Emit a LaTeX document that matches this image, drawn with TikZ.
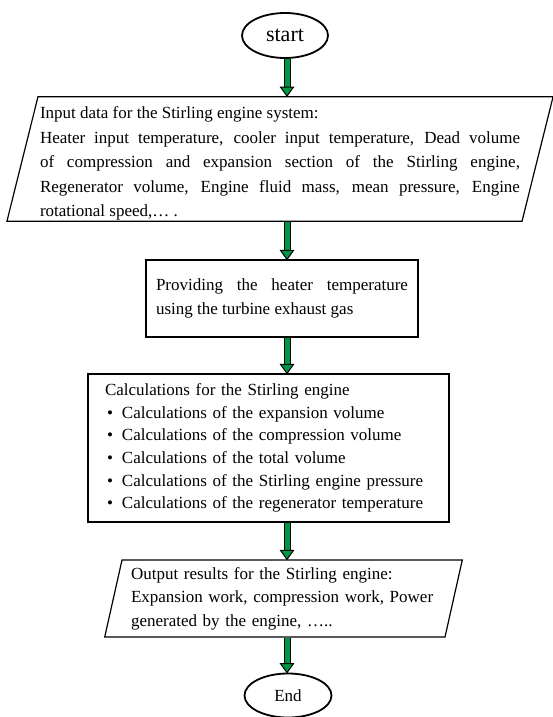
\documentclass[tikz,border=0pt]{standalone}
\usepackage{fontspec}
\setmainfont{Liberation Serif}
\setlength{\parindent}{0pt}
\usetikzlibrary{shapes.geometric}
\definecolor{flowgreen}{RGB}{0,150,70}

\begin{document}
\begin{tikzpicture}[x=1pt, y=1pt, line width=1.2pt]
    \tikzset{
        every node/.style={font=\fontsize{17}{23.5}\selectfont},
        box/.style={draw, rectangle, align=justify},
        io/.style={draw, trapezium, trapezium left angle=76, trapezium right angle=104, trapezium stretches body},
        term/.style={draw, ellipse, line width=1.8pt, inner sep=0pt},
        shaft/.style={double=flowgreen, double distance=5pt, line width=1pt},
        head/.style={fill=flowgreen, draw=black, line width=1pt},
    }
    \useasboundingbox (0,0) rectangle (553,-717);
    \coordinate (axis) at (287,0);

    \node[term, minimum width=86pt, minimum height=45pt, font=\fontsize{22}{26}\selectfont] (start) at (285,-35.5) {start};
    \node[io, text width=480pt, inner xsep=2pt, inner ysep=1pt, minimum height=122pt, align=justify,
          font=\fontsize{17}{24.5}\selectfont] (input) at (280,-159)
        {\rule{0pt}{21pt}Input data for the Stirling engine system:\\
         Heater input temperature, cooler input temperature, Dead volume\linebreak
         of compression and expansion section of the Stirling engine,\linebreak
         Regenerator volume, Engine fluid mass, mean pressure, Engine\linebreak
         rotational speed,… .};
    \node[box, text width=252pt, inner xsep=10pt, minimum height=77pt] (heater) at (282,-298.5)
        {Providing the heater temperature\linebreak using the turbine exhaust gas};
    \node[box, text width=333pt, inner xsep=14pt, minimum height=148pt, align=left,
          font=\fontsize{17}{22.7}\selectfont] (calc) at (268.5,-448)
        {\hspace*{3pt}Calculations for the Stirling engine\\
         \hspace*{5pt}\textbullet\hspace{9pt}Calculations of the expansion volume\\
         \hspace*{5pt}\textbullet\hspace{9pt}Calculations of the compression volume\\
         \hspace*{5pt}\textbullet\hspace{9pt}Calculations of the total volume\\
         \hspace*{5pt}\textbullet\hspace{9pt}Calculations of the Stirling engine pressure\\
         \hspace*{5pt}\textbullet\hspace{9pt}Calculations of the regenerator temperature};
    \node[io, text width=313pt, inner xsep=5pt, minimum height=77pt, align=left] (output) at (283.5,-598.5)
        {\hspace*{4pt}Output results for the Stirling engine:\\
         \hspace*{4pt}Expansion work, compression work, Power\\
         \hspace*{4pt}generated by the engine, …..};
    \node[term, minimum width=87pt, minimum height=44pt] (stop) at (288,-695.5) {End};

    % block arrows between the steps
    \foreach \a/\b in {start/input, input/heater, heater/calc, calc/output, output/stop} {
        \draw[shaft] (\a.south -| axis) -- ([yshift=9pt]\b.north -| axis);
        \draw[head] ([yshift=9pt]\b.north -| axis) ++(-6.5,0) -- ++(13,0) -- (\b.north -| axis) -- cycle;
    }
\end{tikzpicture}
\end{document}
